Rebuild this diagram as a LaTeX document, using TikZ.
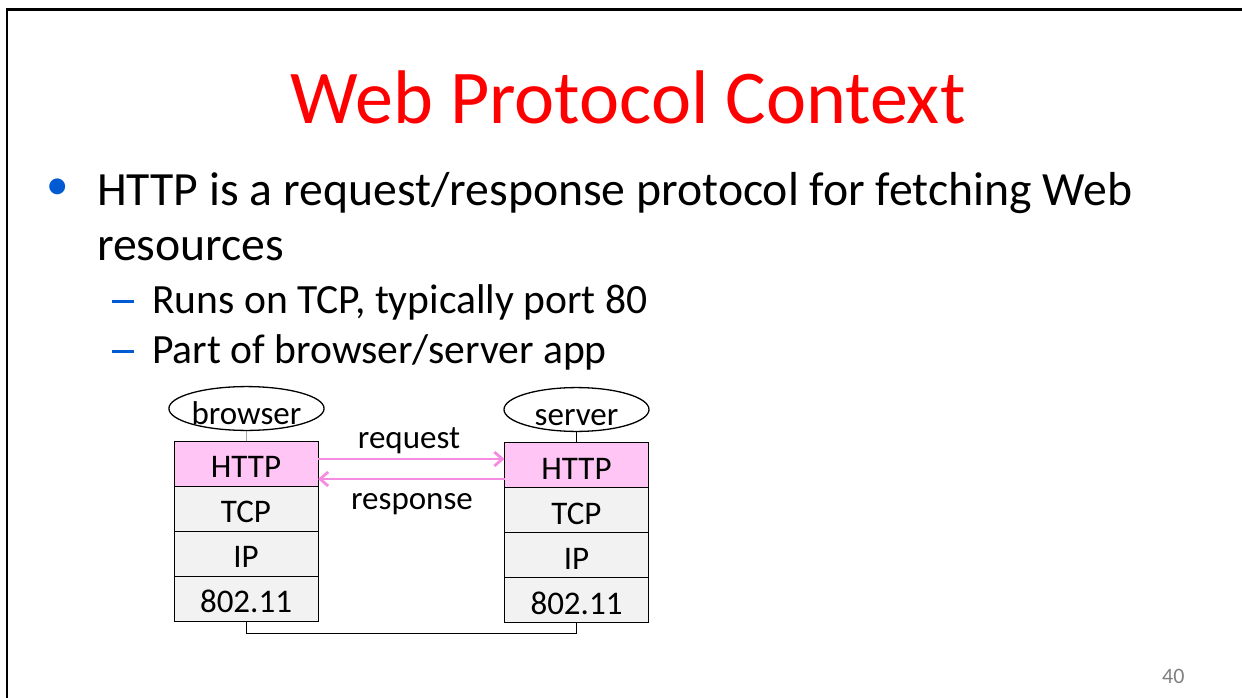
\documentclass[tikz,border=0pt]{standalone}
\usepackage{fontspec}
\setmainfont{Carlito}
\usetikzlibrary{arrows,arrows.meta}
\usetikzlibrary{shapes,decorations}

\definecolor{titlered}{RGB}{255,0,0}
\definecolor{bulletblue}{RGB}{0,90,210}
\definecolor{httppink}{RGB}{255,198,245}
\definecolor{arrowpink}{RGB}{245,140,225}
\definecolor{layergray}{RGB}{242,242,242}

\tikzset{
  layer/.style = {draw, line width=1pt, outer sep=0pt, fill=layergray, minimum width=144pt, minimum height=45pt,
                  inner sep=0pt, text height=28pt, text depth=0pt,
                  font=\fontsize{33}{36}\selectfont},
  app/.style = {draw, line width=1.3pt, ellipse, minimum width=145pt, minimum height=36pt,
                inner sep=0pt, text height=31pt, text depth=0pt,
                font=\fontsize{33}{36}\selectfont},
  msg/.style = {arrowpink, line width=2.8pt, -{Straight Barb[length=8pt, width=14pt]}},
  msgtext/.style = {anchor=base, inner sep=0pt, font=\fontsize{33}{36}\selectfont}
}

\begin{document}
\begin{tikzpicture}[x=1pt, y=-1pt]
        \useasboundingbox (0,0) rectangle (1242,698);
        \draw[line width=2.5pt] (7,698) -- (7,9.5) -- (1242,9.5);

        % title and bullets
        \node[anchor=base, text=titlered, font=\fontsize{76}{84}\selectfont] (title) at (628,124) {Web Protocol Context};
        \node[text=bulletblue, font=\fontsize{45}{50}\selectfont] (dot) at (58,189) {\textbullet};
        \node[anchor=base west, inner sep=0pt, font=\fontsize{47.7}{52}\selectfont] (line1) at (97,205) {HTTP is a request/response protocol for fetching Web};
        \node[anchor=base west, inner sep=0pt, font=\fontsize{47.7}{52}\selectfont] (line2) at (97,260) {resources};
        \node[anchor=base west, inner sep=0pt, text=bulletblue] (dash1) at (112,313) {\rule[10pt]{22pt}{3pt}};
        \node[anchor=base west, inner sep=0pt, font=\fontsize{41.6}{46}\selectfont] (sub1) at (152,313) {Runs on TCP, typically port 80};
        \node[anchor=base west, inner sep=0pt, text=bulletblue] (dash2) at (112,363) {\rule[10pt]{22pt}{3pt}};
        \node[anchor=base west, inner sep=0pt, font=\fontsize{41.6}{46}\selectfont] (sub2) at (152,363) {Part of browser/server app};

        % browser side
        \node[app] (browser) at (246.5,408.5) {browser};
        \node[layer, fill=httppink] (bhttp) at (246,463.5) {HTTP};
        \node[layer, anchor=north] (btcp) at (bhttp.south) {TCP};
        \node[layer, anchor=north] (bip) at (btcp.south) {IP};
        \node[layer, anchor=north] (bmac) at (bip.south) {802.11};

        % server side
        \node[app] (server) at (576.5,409.5) {server};
        \node[layer, fill=httppink] (shttp) at (576.5,465) {HTTP};
        \node[layer, anchor=north] (stcp) at (shttp.south) {TCP};
        \node[layer, anchor=north] (sip) at (stcp.south) {IP};
        \node[layer, anchor=north] (smac) at (sip.south) {802.11};

        \draw (browser) -- (bhttp);
        \draw (server) -- (shttp);
        \coordinate (linkL) at (246,633);
        \coordinate (linkR) at (576.5,633);
        \draw[line width=1pt] (bmac.south) -- (linkL) -- (linkR) -- (smac.south);

        % messages
        \draw[msg] (bhttp.east |- 0,459) -- (shttp.west |- 0,459);
        \draw[msg] (shttp.west |- 0,479) -- (bhttp.east |- 0,479);
        \node[msgtext] (req) at (409,448) {request};
        \node[msgtext] (resp) at (412,509) {response};

        \node[anchor=base west, inner sep=0pt, text=gray, font=\fontsize{22}{24}\selectfont] (page) at (1162,683) {40};
\end{tikzpicture}
\end{document}
